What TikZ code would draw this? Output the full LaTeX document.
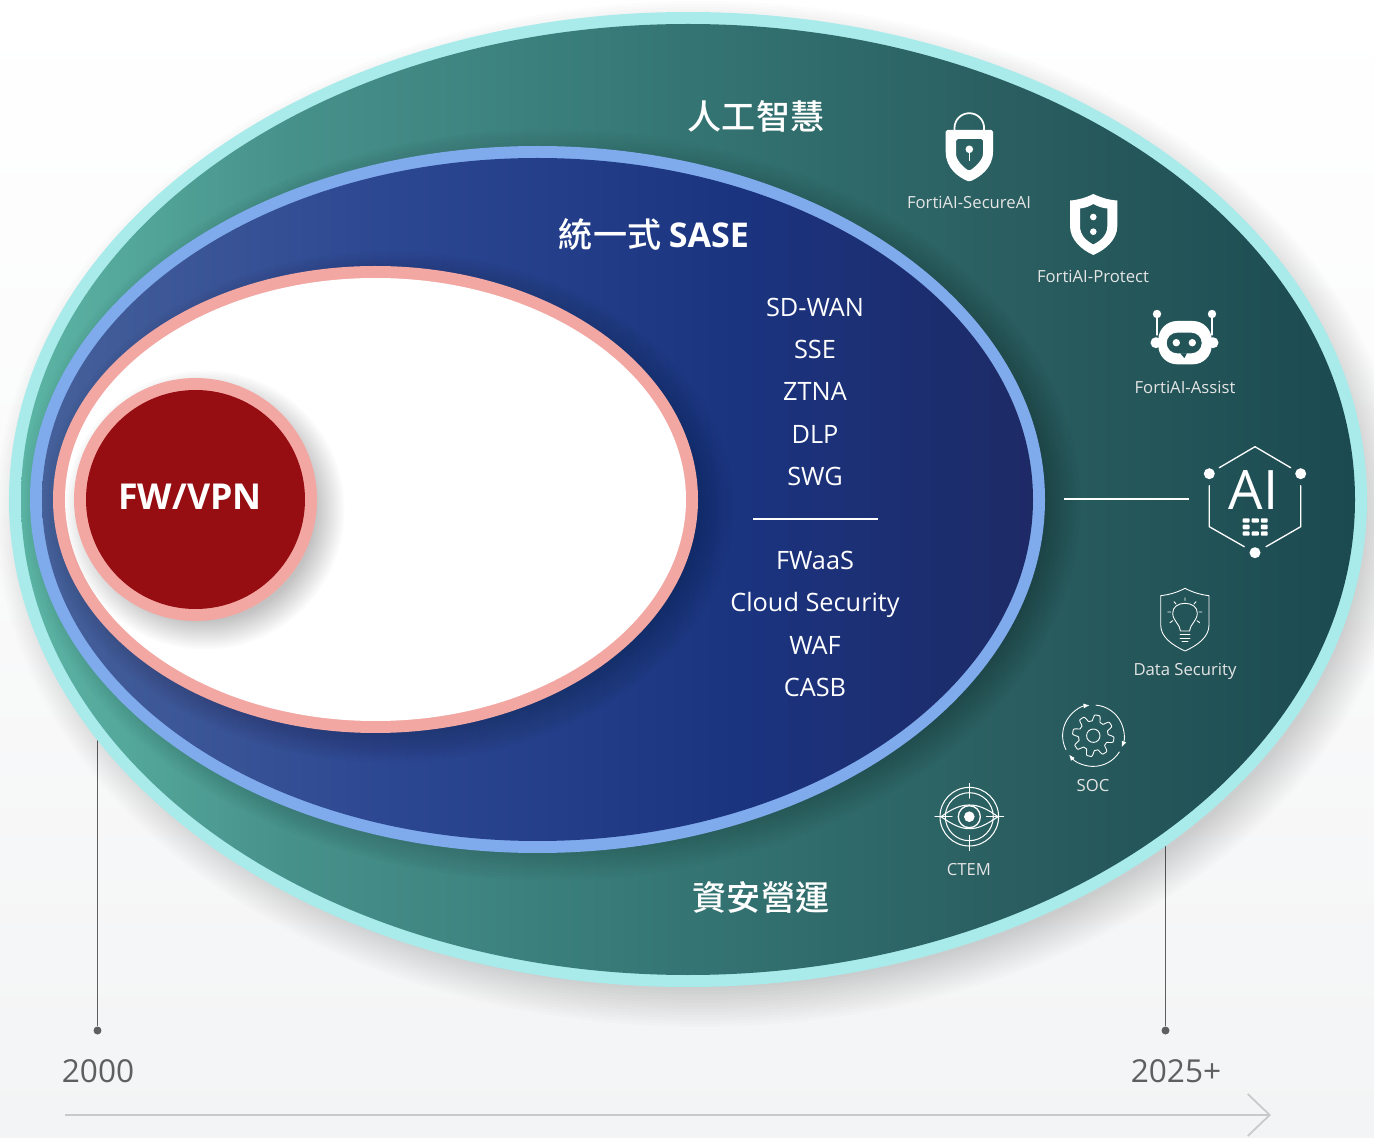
\documentclass[tikz,border=0pt]{standalone}
\usepackage{fontspec}
\setmainfont{Open Sans}
\newfontfamily\cjk{Noto Sans CJK TC Medium}
\usetikzlibrary{arrows.meta}

\definecolor{bgray}{HTML}{F3F4F5}
\definecolor{outerband}{HTML}{A9EAEA}
\definecolor{blueband}{HTML}{7FAAEC}
\definecolor{pinkband}{HTML}{F2A7A3}
\definecolor{fwred}{HTML}{960D12}
\definecolor{yeargray}{HTML}{5F5F5F}
\definecolor{timegray}{HTML}{C8C9C8}
\definecolor{tealA}{HTML}{5CB5A5}
\definecolor{tealB}{HTML}{47918B}
\definecolor{tealC}{HTML}{347573}
\definecolor{tealD}{HTML}{2A5E60}
\definecolor{tealE}{HTML}{1B4A50}
\definecolor{navyA}{HTML}{46609A}
\definecolor{navyB}{HTML}{2D4892}
\definecolor{navyC}{HTML}{1B3480}
\definecolor{navyD}{HTML}{1D2A66}

\pgfdeclarehorizontalshading{tealfill}{100bp}{color(0bp)=(tealA); color(25bp)=(tealA); color(35bp)=(tealB); color(50bp)=(tealC); color(62bp)=(tealD); color(75bp)=(tealE); color(100bp)=(tealE)}
\pgfdeclarehorizontalshading{navyfill}{100bp}{color(0bp)=(navyA); color(25bp)=(navyA); color(42bp)=(navyB); color(60bp)=(navyC); color(75bp)=(navyD); color(100bp)=(navyD)}

\tikzset{
	biglabel/.style={text=white, font=\cjk\fontsize{19.4}{22}\selectfont, inner sep=0pt},
	listlabel/.style={text=white, font=\fontsize{14.4}{16}\selectfont, inner sep=0pt, text height=10.3pt, text depth=0pt},
	iconlabel/.style={text=white!90!black, font=\fontsize{9.5}{11}\selectfont, inner sep=0pt, text height=6.8pt, text depth=0pt},
	yearlabel/.style={text=yeargray, font=\fontsize{18}{20}\selectfont, inner sep=0pt, text height=13pt, text depth=0pt},
	iconline/.style={draw=white, line width=0.75pt, line cap=round, line join=round},
	thinline/.style={draw=white, line width=0.5pt, line cap=round, line join=round},
	tickdot/.style={circle, fill=yeargray, inner sep=0pt, minimum size=0.16cm},
	tickline/.style={draw=yeargray, line width=1.1pt}
}

\begin{document}
\begin{tikzpicture}[x=0.02cm, y=-0.02cm]

	% page
	\useasboundingbox (0,0) rectangle (1374,1138);
	\fill [top color=white, bottom color=bgray, middle color=white!55!bgray] (0,0) rectangle (1374,1138);

	% timeline
	\coordinate (tickleft) at (97.5,700);
	\coordinate (tickright) at (1165.5,800);
	\node [tickdot] (dotleft) at (97.5,1030.5) {};
	\node [tickdot] (dotright) at (1165.5,1030.5) {};
	\draw [tickline] (tickleft) -- (dotleft);
	\draw [tickline] (tickright) -- (dotright);
	\coordinate (timestart) at (65,1115);
	\coordinate (timeend) at (1271,1115);
	\draw [timegray, line width=1.2pt, -{Straight Barb[length=0.44cm, width=0.84cm, line width=1pt]}] (timestart) -- (timeend);
	\node [yearlabel] (yearstart) at (98,1071) {2000};
	\node [yearlabel] (yearend) at (1176,1071) {2025+};

	% outer ellipse
	\foreach \s in {-14,-11,...,25}
		\fill [black, opacity=0.012] (700,514) ellipse [x radius=679+\s, y radius=488+\s];
	\fill [outerband] (688,499.5) ellipse [x radius=679, y radius=487.5];
	\shade [shading=tealfill] (688,499.5) ellipse [x radius=667, y radius=475.5];

	% SASE ellipse
	\foreach \s in {-14,-11,...,22}
		\fill [black, opacity=0.016] (551,505) ellipse [x radius=507.5+\s, y radius=353.5+\s];
	\fill [blueband] (537.5,499.5) ellipse [x radius=507.5, y radius=353.5];
	\shade [shading=navyfill] (537.5,499.5) ellipse [x radius=495.5, y radius=341.5];

	% white ellipse
	\foreach \s in {-14,-11,...,22}
		\fill [black, opacity=0.016] (389,507) ellipse [x radius=322.5+\s, y radius=233.5+\s];
	\fill [pinkband] (375.5,499.5) ellipse [x radius=322.5, y radius=233.5];
	\fill [white] (375.5,499.5) ellipse [x radius=310.5, y radius=221.5];

	% FW/VPN
	\foreach \s in {-10,-8,...,18}
		\fill [black, opacity=0.016] (205,510) ellipse [x radius=121.5+\s, y radius=121.5+\s];
	\fill [pinkband] (195.5,499.5) ellipse [x radius=121.5, y radius=121.5];
	\fill [fwred] (195.5,499.5) ellipse [x radius=109.5, y radius=109.5];
	\node [text=white, font=\fontsize{20.3}{24}\selectfont\bfseries, inner sep=0pt] (fwvpn) at (190,497) {FW/VPN};

	% titles
	\node [biglabel] (aititle) at (756,116) {人工智慧};
	\node [biglabel] (sasetitle) at (654,235) {統一式 {\fontspec{Open Sans}\bfseries SASE}};
	\node [biglabel] (soctitle) at (761,897.5) {資安營運};

	% SASE list
	\node [listlabel] (sdwan) at (815,307) {SD-WAN};
	\node [listlabel] (sse) at (815,349) {SSE};
	\node [listlabel] (ztna) at (815,391) {ZTNA};
	\node [listlabel] (dlp) at (815,434) {DLP};
	\node [listlabel] (swg) at (815,476) {SWG};
	\coordinate (ruleleft) at (753,519);
	\coordinate (ruleright) at (878,519);
	\draw [white, line width=1.1pt] (ruleleft) -- (ruleright);
	\node [listlabel] (fwaas) at (815,560) {FWaaS};
	\node [listlabel] (cloudsec) at (815,602) {Cloud Security};
	\node [listlabel] (waf) at (815,645) {WAF};
	\node [listlabel] (casb) at (815,687) {CASB};

	% SecureAI lock
	\draw [iconline, line width=1pt] (954.5,131) -- (954.5,128) arc [start angle=180, end angle=360, x radius=14.8, y radius=14.8] -- (984,131);
	\fill [white, even odd rule, rounded corners=1pt]
		(945.7,130) -- (993,130) -- (993,150)
		.. controls (993,168) and (980,177) .. (969.3,181.7)
		.. controls (958,177) and (945.7,168) .. (945.7,150) -- cycle
		(956,139) -- (983,139) -- (983,152)
		.. controls (983,160) and (975,167) .. (969.3,171)
		.. controls (963,167) and (956,160) .. (956,152) -- cycle;
	\fill [white] (969.3,149.3) circle [radius=3.8];
	\draw [iconline] (969.3,150) -- (969.3,160.5);
	\node [iconlabel] (secureai) at (969,203) {FortiAI-SecureAI};

	% Protect shield
	\fill [white, even odd rule]
		(1093.3,194) .. controls (1085,198) and (1078,200) .. (1070,200.5) -- (1070,226)
		.. controls (1070,240) and (1082,250) .. (1093.3,255)
		.. controls (1105,250) and (1117.3,240) .. (1117.3,226) -- (1117.3,200.5)
		.. controls (1109,200) and (1102,198) .. (1093.3,194) -- cycle
		(1093.3,204) .. controls (1089,206.5) and (1085,208) .. (1080,208.5) -- (1080,226)
		.. controls (1080,235) and (1086,240.5) .. (1093.3,244.5)
		.. controls (1101,240.5) and (1107.3,235) .. (1107.3,226) -- (1107.3,208.5)
		.. controls (1102,208) and (1098,206.5) .. (1093.3,204) -- cycle;
	\fill [white] (1093.3,217) circle [radius=3.3] (1093.3,231.7) circle [radius=3.3];
	\node [iconlabel] (protect) at (1093,277) {FortiAI-Protect};

	% Assist robot
	\draw [iconline] (1157,314) -- (1157,335) (1212,314) -- (1212,335);
	\fill [white] (1157,314) circle [radius=4.2] (1212,314) circle [radius=4.2];
	\fill [white] (1156,342.7) circle [radius=5.5] (1213,342.7) circle [radius=5.5];
	\fill [white, even odd rule]
		[rounded corners=10.7pt] (1158.3,321) rectangle (1211.7,364.3)
		[rounded corners=5.8pt] (1166.7,332.7) rectangle (1201.7,353.3)
		[sharp corners] (1180,353.3) -- (1187,353.3) -- (1184.5,358.5) -- cycle;
	\fill [white] (1176.3,342.7) circle [radius=3.7] (1192.3,342.7) circle [radius=3.7];
	\node [iconlabel] (assist) at (1185,388) {FortiAI-Assist};

	% AI hexagon
	\coordinate (aiwire) at (1064,499.3);
	\coordinate (aiport) at (1189,499.3);
	\draw [white, line width=1.1pt] (aiwire) -- (aiport);
	\draw [iconline] (1219.3,467.7) -- (1255,446.7) -- (1290.7,467.7);
	\draw [iconline] (1209.3,485.7) -- (1209.3,526.7) -- (1244.3,546.7);
	\draw [iconline] (1300.7,485.7) -- (1300.7,526.7) -- (1266,546.7);
	\fill [white] (1209.3,473.7) circle [radius=5.5] (1300.7,473.7) circle [radius=5.5] (1255,552.7) circle [radius=5.5];
	\node [text=white, font=\fontsize{31}{33}\selectfont, inner sep=0pt] (ailogo) at (1253.5,490) {AI};
	\foreach \xa/\ya/\xb/\yb in {1242.7/518.3/1249.5/522.6, 1251.5/518.3/1258.8/522.6, 1260.8/518.3/1267.7/522.6,
		1242.7/524.7/1249.5/529.3, 1260.8/524.7/1267.7/529.3,
		1242.7/531.4/1249.5/535.7, 1251.5/531.4/1258.8/535.7, 1260.8/531.4/1267.7/535.7}
		\fill [white, rounded corners=0.5pt] (\xa,\ya) rectangle (\xb,\yb);

	% Data Security bulb
	\draw [thinline]
		(1185,588.3) .. controls (1177,592.5) and (1170,594.5) .. (1160.7,595.7) -- (1160.7,625)
		.. controls (1160.7,637) and (1172,645) .. (1185,651)
		.. controls (1198,645) and (1209,637) .. (1209,625) -- (1209,595.7)
		.. controls (1200,594.5) and (1193,592.5) .. (1185,588.3) -- cycle;
	\draw [thinline]
		(1180.5,631) .. controls (1180,624) and (1172.7,621) .. (1172.7,613)
		.. controls (1172.7,607) and (1178,603.3) .. (1185,603.3)
		.. controls (1192,603.3) and (1197.3,607) .. (1197.3,613)
		.. controls (1197.3,621) and (1190,624) .. (1189.5,631) -- cycle;
	\draw [thinline] (1180,634.5) -- (1190,634.5) (1180,638) -- (1190,638) (1182,641.5) -- (1188,641.5);
	\draw [thinline] (1185,597.7) -- (1185,600.5) (1174,601.7) -- (1176,604) (1196,601.7) -- (1194,604)
		(1167.7,612) -- (1170.7,612) (1199,612) -- (1202,612)
		(1170,622.7) -- (1172.7,620.7) (1199.7,622.7) -- (1197,620.7);
	\node [iconlabel] (datasec) at (1185,670) {Data Security};

	% SOC gear
	\draw [thinline, variable=\x, domain=0:360, samples=145]
		plot ({1093.3+(17.8+3*max(min(2*sin(8*\x),1),-1))*cos(\x)}, {735.7+(17.8+3*max(min(2*sin(8*\x),1),-1))*sin(\x)}) -- cycle;
	\draw [thinline] (1093.3,735.7) circle [radius=6.7];
	\draw [thinline, -{Latex[length=0.12cm, width=0.1cm]}] (1093.3,735.7) ++(-207:30.7) arc [start angle=-207, end angle=-97, radius=30.7];
	\draw [thinline, -{Latex[length=0.12cm, width=0.1cm]}] (1093.3,735.7) ++(-85:30.7) arc [start angle=-85, end angle=22, radius=30.7];
	\draw [thinline, -{Latex[length=0.12cm, width=0.1cm]}] (1093.3,735.7) ++(32:30.7) arc [start angle=32, end angle=142, radius=30.7];
	\node [iconlabel] (soc) at (1093,786) {SOC};

	% CTEM eye
	\draw [thinline, line width=0.6pt] (969.3,816.7) circle [radius=29.3] (969.3,816.7) circle [radius=24];
	\draw [thinline, line width=0.6pt] (935,816.7) -- (952,816.7) (986.5,816.7) -- (1003.5,816.7)
		(969.3,783.3) -- (969.3,798) (969.3,835.5) -- (969.3,850.5);
	\draw [thinline, line width=0.6pt] (941,816.7) .. controls (953,808) and (961,805) .. (969.3,805)
		.. controls (978,805) and (986,808) .. (998,816.7)
		.. controls (986,825) and (978,828.7) .. (969.3,828.7)
		.. controls (961,828.7) and (953,825) .. (941,816.7) -- cycle;
	\draw [iconline] (969.3,816.7) circle [radius=11];
	\fill [white] (969.3,816.7) circle [radius=5.3];
	\node [iconlabel] (ctem) at (969,870) {CTEM};

\end{tikzpicture}
\end{document}
